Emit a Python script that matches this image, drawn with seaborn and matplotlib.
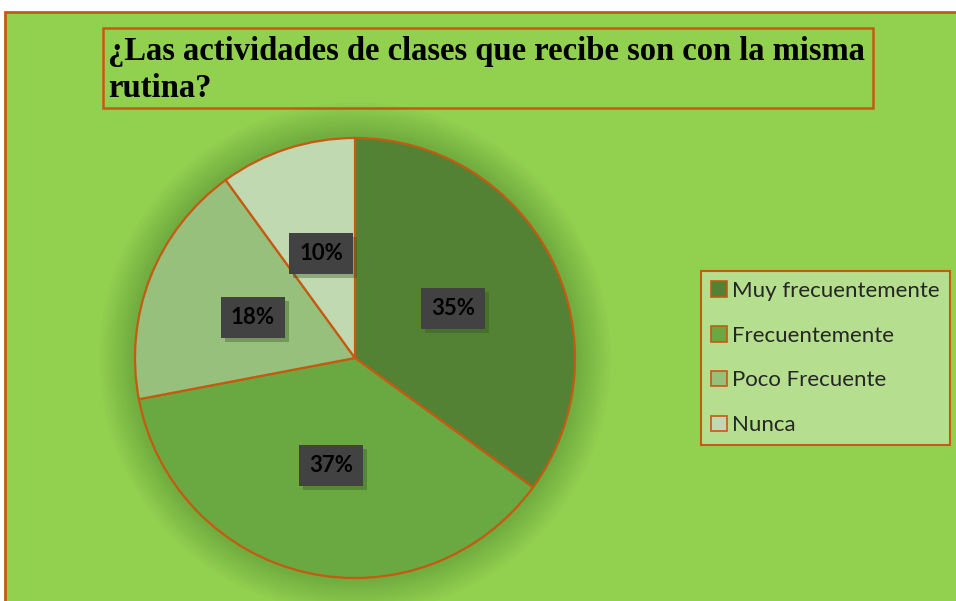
import matplotlib
matplotlib.use("Agg")
import matplotlib.pyplot as plt
import matplotlib.patheffects as pe
import seaborn as sns
from matplotlib.patches import Rectangle, Circle

categories = ["Muy frecuentemente", "Frecuentemente", "Poco Frecuente", "Nunca"]
values = [35, 37, 18, 10]
colors = ["#548235", "#6aa842", "#97c07d", "#c0d9b1"]
title = "¿Las actividades de clases que recibe son con la misma\nrutina?"

sns.set_theme(style="white")
plt.rcParams["font.family"] = ["Lato", "DejaVu Sans"]

edge = "#c55a11"
W, H = 956, 601
fig = plt.figure(figsize=(W / 100, H / 100), dpi=100)
fig.patch.set_facecolor("white")

# green chart area with orange border
fig.patches.append(Rectangle((5 / W, -0.01), 1.0, (H - 12) / H + 0.01,
                             transform=fig.transFigure, fc="#92d050",
                             ec=edge, lw=2, zorder=-3))

# title box
fig.patches.append(Rectangle((103 / W, (H - 108) / H), 770 / W, 80 / H,
                             transform=fig.transFigure, fc="#92d050",
                             ec=edge, lw=1.8, zorder=-2))
fig.text(108 / W, (H - 70) / H, title, ha="left", va="center",
         family="Liberation Serif", weight="bold", fontsize=23.5,
         linespacing=1.25, color="black")

# pie axes: centre (355, 358), radius 220 px
ax = fig.add_axes([(355 - 220) / W, (H - 578) / H, 440 / W, 440 / H])
ax.axis("off")

# soft glow behind pie
for i in range(18):
    ax.add_patch(Circle((0, 0), 1.0 + 0.009 * (18 - i), fc="#4a7a26",
                        alpha=0.025, ec="none", zorder=0, clip_on=False))

wedges, texts, autotexts = ax.pie(
    values, colors=colors, startangle=90, counterclock=False, radius=1,
    autopct="%1.0f%%", pctdistance=0.5,
    wedgeprops=dict(edgecolor=edge, linewidth=1.6),
    textprops=dict(fontsize=16, weight="bold", color="black"))
ax.set_xlim(-1, 1)
ax.set_ylim(-1, 1)
ax.set_aspect("equal")
for t in autotexts:
    t.set_bbox(dict(boxstyle="square,pad=0.45", fc="#424242", ec="#424242", lw=0))
    t.get_bbox_patch().set_path_effects(
        [pe.SimplePatchShadow(offset=(3, -3), shadow_rgbFace="#2f4f18", alpha=0.35),
         pe.Normal()])

leg = fig.legend(wedges, categories, loc="center left",
                 bbox_to_anchor=(701 / W, (H - 358) / H),
                 fontsize=16, frameon=True, fancybox=False,
                 facecolor="#b5de8f", edgecolor=edge, framealpha=1,
                 labelspacing=1.12, handlelength=0.7, handleheight=0.7,
                 handletextpad=0.25, borderpad=0.45, borderaxespad=0)
leg.get_frame().set_linewidth(1.5)
for h in leg.legend_handles:
    h.set_edgecolor(edge)
    h.set_linewidth(1.2)

fig.savefig("out.png", dpi=100)
